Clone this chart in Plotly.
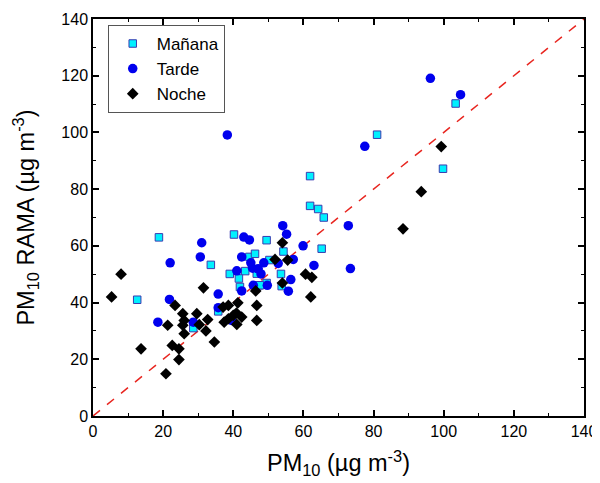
import plotly.graph_objects as go

manana_x = [18.8, 12.6, 40.2, 49.5, 33.6, 44.6, 46.2, 54.3, 50.3, 39.0, 43.4, 46.7, 53.6, 41.6,
            41.9, 49.5, 47.3, 53.8, 35.7, 28.6, 61.9, 61.9, 64.2, 65.8, 65.2, 81.0, 103.4, 99.8, 47.6]
manana_y = [63.0, 41.0, 64.0, 62.0, 53.3, 56.1, 57.2, 58.0, 55.0, 50.1, 51.1, 50.2, 50.1, 48.5,
            45.5, 46.9, 46.1, 45.8, 36.9, 31.0, 84.6, 74.1, 73.0, 70.0, 59.0, 99.2, 110.2, 87.2, 46.1]

tarde_x = [38.3, 43.0, 44.6, 54.1, 55.2, 31.0, 22.0, 30.6, 42.4, 45.0, 48.7, 41.0, 45.5, 47.1,
           47.9, 21.8, 35.7, 18.5, 28.6, 35.7, 39.5, 42.4, 45.7, 49.7, 56.4, 55.7, 59.9, 57.1,
           52.8, 63.0, 72.8, 73.4, 77.5, 96.2, 104.8]
tarde_y = [99.1, 63.1, 62.1, 67.1, 64.1, 61.1, 54.0, 56.1, 56.1, 54.0, 54.0, 51.2, 52.1, 51.9,
           50.1, 41.1, 43.0, 33.1, 33.1, 38.2, 33.7, 44.1, 46.1, 46.1, 48.1, 44.0, 60.0, 55.2,
           53.8, 53.1, 67.1, 52.0, 95.1, 119.1, 113.3]

noche_x = [8.0, 5.3, 31.5, 23.4, 21.3, 25.6, 26.0, 25.6, 29.6, 30.3, 32.7, 26.0, 32.2, 34.6,
           13.7, 22.6, 24.5, 24.5, 20.8, 37.1, 38.6, 41.3, 46.7, 46.7, 37.4, 38.6, 40.0, 41.0,
           42.4, 46.4, 54.0, 54.0, 51.9, 55.5, 60.6, 62.4, 62.1, 88.4, 93.6, 99.3, 40.9]
noche_y = [50.0, 42.0, 45.2, 39.0, 32.0, 36.1, 33.7, 32.0, 36.1, 32.2, 34.0, 29.0, 30.0, 26.1,
           23.7, 24.9, 23.7, 19.9, 14.9, 38.4, 39.0, 39.9, 39.0, 33.7, 33.1, 34.3, 35.5, 32.3,
           34.9, 44.1, 46.9, 61.1, 55.2, 55.0, 50.0, 48.9, 42.0, 66.0, 79.1, 95.0, 36.3]

line_x = [0, 140]
line_y = [0, 140]

FONT = "Liberation Sans, Arial"

fig = go.Figure()
fig.add_trace(go.Scatter(x=line_x, y=line_y, mode="lines", showlegend=False,
                         line=dict(color="#e8251f", width=1.5, dash="dash"), hoverinfo="skip"))
fig.add_trace(go.Scatter(x=manana_x, y=manana_y, mode="markers", name="Mañana",
                         marker=dict(symbol="square", size=7.5, color="#00f0ff",
                                     line=dict(color="#3a3ab0", width=1))))
fig.add_trace(go.Scatter(x=tarde_x, y=tarde_y, mode="markers", name="Tarde",
                         marker=dict(symbol="circle", size=9.5, color="#0000ee",
                                     line=dict(width=0))))
fig.add_trace(go.Scatter(x=noche_x, y=noche_y, mode="markers", name="Noche",
                         marker=dict(symbol="diamond", size=9, color="black",
                                     line=dict(width=0))))

axis_common = dict(
    range=[0, 140], dtick=20, showgrid=False, zeroline=False, automargin=False,
    showline=True, linecolor="black", linewidth=1.5, mirror="ticks",
    ticks="inside", ticklen=6, tickwidth=1.5, tickcolor="black",
    minor=dict(ticks="inside", dtick=10, ticklen=3, tickwidth=1.2, tickcolor="black"),
    tickfont=dict(family=FONT, size=16, color="black"),
)

fig.update_layout(
    width=600, height=483,
    margin=dict(l=85, r=24, t=11, b=75),
    plot_bgcolor="white", paper_bgcolor="white",
    xaxis=dict(**axis_common,
               title=dict(text="PM<sub>10</sub> (µg m<sup>-3</sup>)",
                          font=dict(family=FONT, size=23.5, color="black"),
                          standoff=16)),
    yaxis=dict(**axis_common,
               title=dict(text="PM<sub>10</sub> RAMA (µg m<sup>-3</sup>)",
                          font=dict(family=FONT, size=23.5, color="black"),
                          standoff=20)),
    legend=dict(x=0.03, y=0.985, xanchor="left", yanchor="top",
                bordercolor="#555555", borderwidth=1, bgcolor="white",
                font=dict(family=FONT, size=17, color="black"),
                itemwidth=38, tracegroupgap=0),
    showlegend=True,
)

fig.write_html("out.html")
